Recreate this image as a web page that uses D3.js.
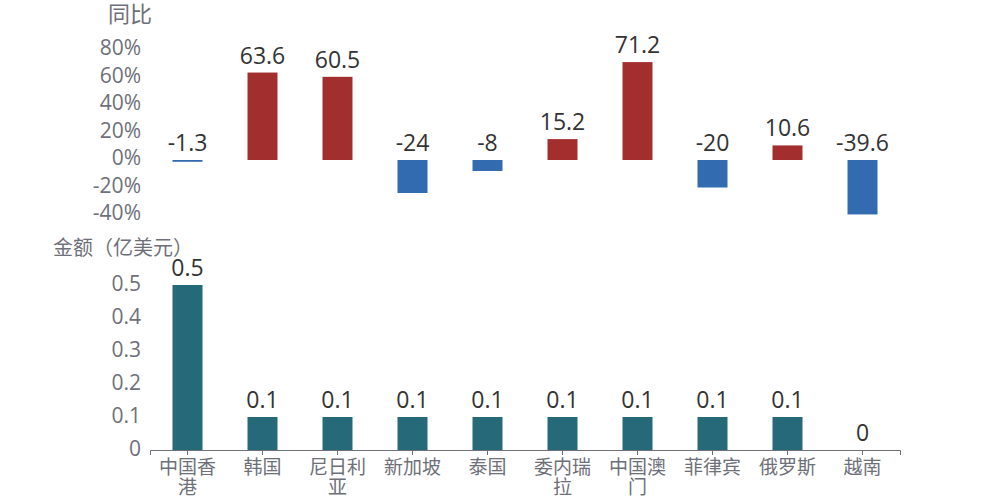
<!DOCTYPE html>
<html lang="zh">
<head>
<meta charset="UTF-8">
<title>chart</title>
<style>
  body { margin: 0; background: #fff; }
  text { font-family: "Open Sans", "Noto Sans CJK SC", sans-serif; }
  .tick-label { fill: #6e7079; font-size: 21px; }
  .val-label { fill: #333; font-size: 23px; }
</style>
</head>
<body>
<script src="https://cdn.jsdelivr.net/npm/d3@7"></script>
<script>
// data
var categories = ["中国香港", "韩国", "尼日利亚", "新加坡", "泰国", "委内瑞拉", "中国澳门", "菲律宾", "俄罗斯", "越南"];
var catLines = [["中国香", "港"], ["韩国"], ["尼日利", "亚"], ["新加坡"], ["泰国"], ["委内瑞", "拉"], ["中国澳", "门"], ["菲律宾"], ["俄罗斯"], ["越南"]];
var yoy = [-1.3, 63.6, 60.5, -24, -8, 15.2, 71.2, -20, 10.6, -39.6];
var amount = [0.5, 0.1, 0.1, 0.1, 0.1, 0.1, 0.1, 0.1, 0.1, 0];
var yoyTicks = [80, 60, 40, 20, 0, -20, -40];
var amountTicks = [0, 0.1, 0.2, 0.3, 0.4, 0.5];

var W = 1000, H = 500;
var red = "#a32e2e", blue = "#336bb0", teal = "#266a79";

var svg = d3.select("body").append("svg")
    .attr("width", W)
    .attr("height", H);

var x = d3.scaleBand().domain(categories).range([150, 900]);
var barW = 30;

// top chart: yoy
var yTop = d3.scaleLinear().domain([-40, 80]).range([215, 50]);

svg.append("text")
    .attr("class", "tick-label")
    .style("font-size", "22px")
    .attr("x", 130).attr("y", 22)
    .attr("text-anchor", "middle")
    .text("同比");

svg.append("g").selectAll("text")
    .data(yoyTicks)
    .enter().append("text")
    .attr("class", "tick-label")
    .attr("x", 141)
    .attr("y", function (d) { return yTop(d) - 2; })
    .attr("dy", "0.35em")
    .attr("text-anchor", "end")
    .text(function (d) { return d + "%"; });

svg.append("g").selectAll("rect")
    .data(yoy)
    .enter().append("rect")
    .attr("x", function (d, i) { return x(categories[i]) + (x.bandwidth() - barW) / 2; })
    .attr("y", function (d) { return yTop(Math.max(0, d)); })
    .attr("width", barW)
    .attr("height", function (d) { return Math.max(1.5, Math.abs(yTop(d) - yTop(0))); })
    .attr("fill", function (d) { return d >= 0 ? red : blue; });

svg.append("g").selectAll("text")
    .data(yoy)
    .enter().append("text")
    .attr("class", "val-label")
    .attr("x", function (d, i) { return x(categories[i]) + x.bandwidth() / 2; })
    .attr("y", function (d) { return yTop(Math.max(0, d)) - 9; })
    .attr("text-anchor", "middle")
    .text(function (d) { return d; });

// bottom chart: amount
var yBot = d3.scaleLinear().domain([0, 0.5]).range([450, 285]);

svg.append("text")
    .attr("class", "tick-label")
    .style("font-size", "20px")
    .attr("x", 53).attr("y", 255)
    .text("金额（亿美元）");

svg.append("g").selectAll("text")
    .data(amountTicks)
    .enter().append("text")
    .attr("class", "tick-label")
    .attr("x", 141)
    .attr("y", function (d) { return yBot(d) - 1; })
    .attr("dy", "0.35em")
    .attr("text-anchor", "end")
    .text(function (d) { return d; });

svg.append("g").selectAll("rect")
    .data(amount)
    .enter().append("rect")
    .attr("x", function (d, i) { return x(categories[i]) + (x.bandwidth() - barW) / 2; })
    .attr("y", function (d) { return yBot(d); })
    .attr("width", barW)
    .attr("height", function (d) { return yBot(0) - yBot(d); })
    .attr("fill", teal);

svg.append("g").selectAll("text")
    .data(amount)
    .enter().append("text")
    .attr("class", "val-label")
    .attr("x", function (d, i) { return x(categories[i]) + x.bandwidth() / 2; })
    .attr("y", function (d) { return yBot(d) - 9; })
    .attr("text-anchor", "middle")
    .text(function (d) { return d; });

// x axis
var axis = svg.append("g")
    .attr("transform", "translate(0," + yBot(0) + ")")
    .call(d3.axisBottom(x).tickSizeOuter(0).tickSize(5).tickFormat(""));
axis.select(".domain").attr("stroke", "#6e7079");
axis.selectAll(".tick line").attr("stroke", "#6e7079");

var lab = svg.append("g").selectAll("text")
    .data(categories)
    .enter().append("text")
    .attr("class", "tick-label")
    .style("font-size", "19px")
    .attr("x", function (d) { return x(d) + x.bandwidth() / 2; })
    .attr("y", 474)
    .attr("text-anchor", "middle");
lab.each(function (d, i) {
    var t = d3.select(this);
    catLines[i].forEach(function (s, j) {
        t.append("tspan")
            .attr("x", x(d) + x.bandwidth() / 2)
            .attr("dy", j === 0 ? 0 : 20)
            .text(s);
    });
});
</script>
</body>
</html>
